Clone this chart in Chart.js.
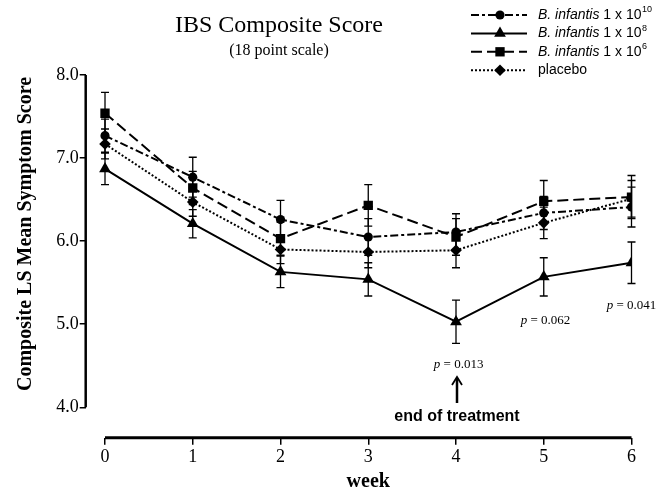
<!DOCTYPE html>
<html lang="en">
<head>
<meta charset="UTF-8">
<title>IBS Composite Score</title>
<script src="https://cdn.jsdelivr.net/npm/chart.js"></script>
<style>
  html, body { margin: 0; padding: 0; background: #fff; }
</style>
</head>
<body>
<canvas id="chartCanvas" width="665" height="490"></canvas>
<script>
// weeks on the x axis and the y tick values
const weeks = [0, 1, 2, 3, 4, 5, 6];
const yTicks = [4, 5, 6, 7, 8];

// LS mean composite score per group
const b10Mean = [7.27, 6.77, 6.26, 6.05, 6.11, 6.34, 6.41];
const b8Mean = [6.87, 6.21, 5.63, 5.54, 5.03, 5.57, 5.74];
const b6Mean = [7.54, 6.64, 6.03, 6.43, 6.05, 6.48, 6.53];
const placeboMean = [7.17, 6.47, 5.90, 5.87, 5.89, 6.22, 6.51];

// standard errors (error bars)
const b10SE = [0.20, 0.24, 0.23, 0.22, 0.22, 0.20, 0.24];
const b8SE = [0.19, 0.17, 0.19, 0.20, 0.26, 0.23, 0.25];
const b6SE = [0.25, 0.20, 0.20, 0.25, 0.22, 0.25, 0.26];
const placeboSE = [0.18, 0.17, 0.17, 0.19, 0.21, 0.19, 0.22];

// legend text
const groupNames = ['B. infantis', 'B. infantis', 'B. infantis', 'placebo'];
const groupExponents = [10, 8, 6, null];

// p values shown under the 10^8 group
const pTexts = ['0.013', '0.062', '0.041'];

const serif = '"Times New Roman", "Liberation Serif", serif';
const sans = 'Arial, "Liberation Sans", sans-serif';

const means = [b10Mean, b8Mean, b6Mean, placeboMean];
const errors = [b10SE, b8SE, b6SE, placeboSE];
const dashes = [[8, 3, 3, 3], [], [11, 5], [2, 2]];
const markers = ['circle', 'triangle', 'rect', 'rectRot'];
const markerSizes = [4.6, 6.8, 6.6, 5.8];
const drawOrder = [1, 2, 3, 0]; // placebo drawn on top

function toPoints(arr) {
    return weeks.map((w, i) => ({ x: w, y: arr[i] }));
}

// draws a marker the same way Chart.js shapes its points
function drawMarker(ctx, style, x, y, r) {
    ctx.beginPath();
    if (style === 'circle') {
        ctx.arc(x, y, r, 0, Math.PI * 2);
    } else if (style === 'triangle') {
        let a = 0;
        ctx.moveTo(x + Math.sin(a) * r, y - Math.cos(a) * r);
        a += Math.PI * 2 / 3;
        ctx.lineTo(x + Math.sin(a) * r, y - Math.cos(a) * r);
        a += Math.PI * 2 / 3;
        ctx.lineTo(x + Math.sin(a) * r, y - Math.cos(a) * r);
    } else if (style === 'rect') {
        const s = Math.SQRT1_2 * r;
        ctx.rect(x - s, y - s, 2 * s, 2 * s);
    } else {
        ctx.moveTo(x, y - r);
        ctx.lineTo(x + r, y);
        ctx.lineTo(x, y + r);
        ctx.lineTo(x - r, y);
    }
    ctx.closePath();
    ctx.fill();
}

const decorPlugin = {
    id: 'decor',
    beforeDatasetsDraw(chart) {
        // error bars
        const ctx = chart.ctx;
        const xs = chart.scales.x, ys = chart.scales.y;
        ctx.save();
        ctx.strokeStyle = '#000';
        ctx.lineWidth = 1.3;
        ctx.setLineDash([]);
        means.forEach((m, i) => {
            weeks.forEach((w, j) => {
                const px = xs.getPixelForValue(w);
                const top = ys.getPixelForValue(m[j] + errors[i][j]);
                const bot = ys.getPixelForValue(m[j] - errors[i][j]);
                ctx.beginPath();
                ctx.moveTo(px, top); ctx.lineTo(px, bot);
                ctx.moveTo(px - 4, top); ctx.lineTo(px + 4, top);
                ctx.moveTo(px - 4, bot); ctx.lineTo(px + 4, bot);
                ctx.stroke();
            });
        });
        ctx.restore();
    },
    afterDraw(chart) {
        const ctx = chart.ctx;
        const xs = chart.scales.x, ys = chart.scales.y;
        const area = chart.chartArea;
        ctx.save();
        ctx.strokeStyle = '#000';
        ctx.fillStyle = '#000';
        ctx.setLineDash([]);

        // axis lines
        ctx.lineWidth = 2.5;
        ctx.beginPath();
        ctx.moveTo(area.left, ys.getPixelForValue(yTicks[0]));
        ctx.lineTo(area.left, ys.getPixelForValue(yTicks[yTicks.length - 1]));
        ctx.stroke();
        ctx.lineWidth = 3;
        ctx.beginPath();
        ctx.moveTo(xs.getPixelForValue(weeks[0]), area.bottom);
        ctx.lineTo(xs.getPixelForValue(weeks[weeks.length - 1]), area.bottom);
        ctx.stroke();

        // titles
        ctx.textAlign = 'center';
        ctx.textBaseline = 'alphabetic';
        ctx.font = '24px ' + serif;
        ctx.fillText('IBS Composite Score', 279, 31.5);
        ctx.font = '16px ' + serif;
        ctx.fillText('(18 point scale)', 279, 55);

        // axis titles
        ctx.font = 'bold 20px ' + serif;
        const midWeek = (xs.getPixelForValue(weeks[0]) + xs.getPixelForValue(weeks[weeks.length - 1])) / 2;
        ctx.fillText('week', midWeek, 487);
        ctx.save();
        ctx.translate(26, 234);
        ctx.rotate(-Math.PI / 2);
        ctx.textBaseline = 'middle';
        ctx.fillText('Composite LS Mean Symptom Score', 0, 0);
        ctx.restore();

        // legend
        groupNames.forEach((name, i) => {
            const ly = 15 + i * 18.4;
            ctx.lineWidth = 2;
            ctx.setLineDash(dashes[i]);
            ctx.beginPath();
            ctx.moveTo(471, ly);
            ctx.lineTo(527, ly);
            ctx.stroke();
            ctx.setLineDash([]);
            drawMarker(ctx, markers[i], 500, ly, markerSizes[i]);

            ctx.textAlign = 'left';
            ctx.textBaseline = 'middle';
            let tx = 538;
            if (groupExponents[i] !== null) {
                ctx.font = 'italic 14px ' + sans;
                ctx.fillText(name, tx, ly);
                tx += ctx.measureText(name).width;
                ctx.font = '14px ' + sans;
                const base = ' 1 x 10';
                ctx.fillText(base, tx, ly);
                tx += ctx.measureText(base).width;
                ctx.font = '9px ' + sans;
                ctx.fillText(String(groupExponents[i]), tx + 0.5, ly - 5);
            } else {
                ctx.font = '14px ' + sans;
                ctx.fillText(name, tx, ly);
            }
        });

        // p value notes
        const notes = [
            { week: 4.03, value: 4.52 },
            { week: 5.02, value: 5.04 },
            { week: 6.0, value: 5.22 }
        ];
        ctx.textBaseline = 'middle';
        notes.forEach((n, i) => {
            const cx = xs.getPixelForValue(n.week);
            const cy = ys.getPixelForValue(n.value);
            ctx.font = 'italic 13px ' + serif;
            const pw = ctx.measureText('p').width;
            ctx.font = '13px ' + serif;
            const rest = ' = ' + pTexts[i];
            const rw = ctx.measureText(rest).width;
            const x0 = cx - (pw + rw) / 2;
            ctx.textAlign = 'left';
            ctx.font = 'italic 13px ' + serif;
            ctx.fillText('p', x0, cy);
            ctx.font = '13px ' + serif;
            ctx.fillText(rest, x0 + pw, cy);
        });

        // end of treatment arrow
        const ax = xs.getPixelForValue(4) + 1;
        ctx.lineWidth = 2.5;
        ctx.beginPath();
        ctx.moveTo(ax, 403);
        ctx.lineTo(ax, 378);
        ctx.stroke();
        ctx.lineWidth = 1.8;
        ctx.beginPath();
        ctx.moveTo(ax - 5, 385);
        ctx.lineTo(ax, 377);
        ctx.lineTo(ax + 5, 385);
        ctx.stroke();
        ctx.textAlign = 'center';
        ctx.font = 'bold 16px ' + sans;
        ctx.fillText('end of treatment', ax, 417);

        ctx.restore();
    }
};

const datasets = means.map((m, i) => ({
    label: i < 3 ? groupNames[i] + ' 1 x 10^' + groupExponents[i] : groupNames[i],
    data: toPoints(m),
    order: drawOrder[i],
    borderColor: '#000',
    backgroundColor: '#000',
    borderWidth: 2,
    borderDash: dashes[i],
    pointStyle: markers[i],
    pointRadius: markerSizes[i],
    pointBorderWidth: 0,
    pointBackgroundColor: '#000',
    tension: 0,
    fill: false
}));

const config = {
    type: 'line',
    data: { datasets: datasets },
    options: {
        responsive: false,
        animation: false,
        devicePixelRatio: 1,
        layout: { padding: { top: 75, right: 33.5, left: 0, bottom: 0 } },
        plugins: {
            legend: { display: false },
            title: { display: false },
            tooltip: { enabled: false }
        },
        scales: {
            x: {
                type: 'linear',
                min: -0.22,
                max: 6,
                afterBuildTicks: s => { s.ticks = weeks.map(v => ({ value: v })); },
                afterFit: s => { s.height = 52.3; },
                border: { display: false },
                grid: { drawOnChartArea: false, drawTicks: true, tickLength: 7, color: '#000', lineWidth: 1.5 },
                ticks: { color: '#000', font: { family: serif, size: 18 }, padding: 2, maxRotation: 0 }
            },
            y: {
                min: 3.634,
                max: 8,
                afterBuildTicks: s => { s.ticks = yTicks.map(v => ({ value: v })); },
                afterFit: s => { s.width = 85.7; },
                border: { display: false },
                grid: { drawOnChartArea: false, drawTicks: true, tickLength: 6, color: '#000', lineWidth: 1.5 },
                ticks: { color: '#000', font: { family: serif, size: 18 }, padding: 1, callback: v => Number(v).toFixed(1) }
            }
        }
    },
    plugins: [decorPlugin]
};

new Chart(document.getElementById('chartCanvas'), config);
</script>
</body>
</html>
